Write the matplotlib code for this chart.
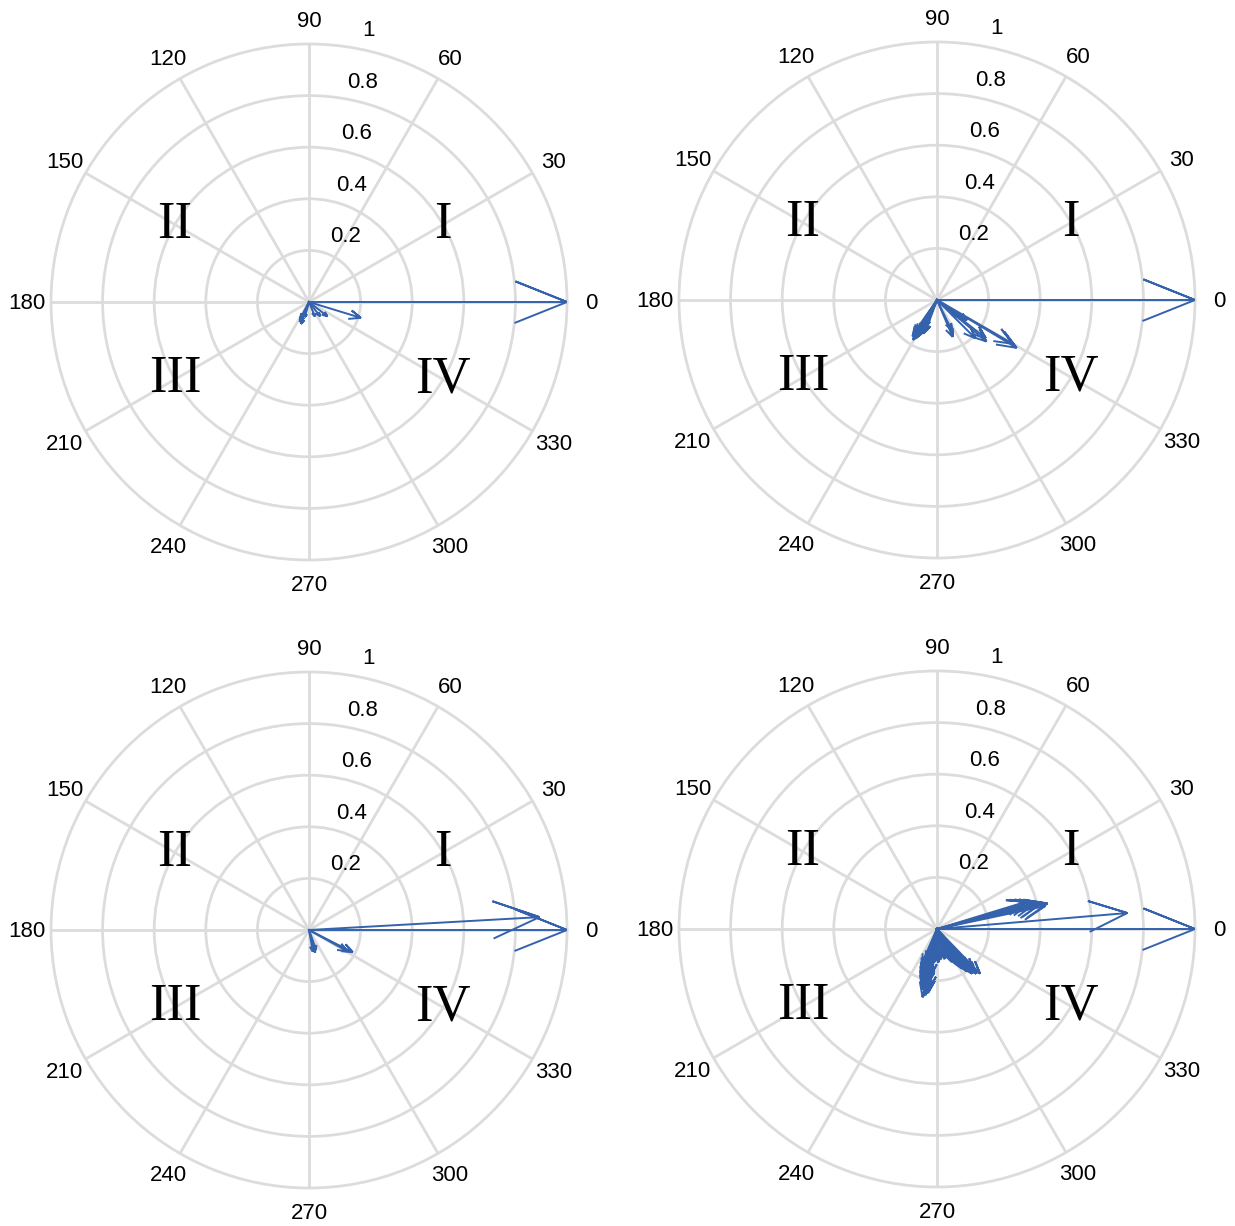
import numpy as np
import matplotlib
matplotlib.use("Agg")
from matplotlib import pyplot as plt

# compass data: magnitude and angle (deg) for each arrow, one pair of lists per panel
mag_a = [1.0, 0.21, 0.09, 0.07, 0.06, 0.09, 0.08, 0.07, 0.06, 0.085]
ang_a = [0, -17, -38, -52, -68, -110, -113, -118, -105, -115]

mag_b = [1.0, 0.18, 0.17, 0.16, 0.15, 0.14, 0.13, 0.12, 0.17, 0.11, 0.10, 0.15, 0.13,
         0.155, 0.13, 0.25, 0.24, 0.21, 0.36, 0.34, 0.14, 0.12, 0.10, 0.16, 0.14]
ang_b = [0, -121, -119, -122, -117, -120, -115, -118, -124, -113, -116, -123, -110,
         -67, -64, -40, -38, -45, -31, -30, -34, -36, -38, -125, -112]

mag_c = [1.0, 0.895, 0.19, 0.17, 0.09, 0.085, 0.08]
ang_c = [0, 3.2, -27, -29, -75, -80, -70]

mag_d = [1.0, 0.74, 0.44, 0.42, 0.40, 0.38, 0.36, 0.43, 0.41,
         0.27, 0.26, 0.25, 0.24, 0.23, 0.22, 0.21, 0.20, 0.19, 0.18, 0.17, 0.16, 0.15, 0.14, 0.13,
         0.25, 0.22, 0.20, 0.18, 0.16, 0.14, 0.12,
         0.24, 0.23, 0.22, 0.21, 0.20, 0.19, 0.18, 0.17, 0.16, 0.15, 0.14,
         0.12, 0.11, 0.12, 0.11, 0.12, 0.13, 0.12, 0.14]
ang_d = [0, 4.8, 13, 14, 15, 16, 17, 12, 13.5,
         -102, -100, -98, -104, -97, -106, -99, -108, -101, -110, -96, -112, -103, -114, -95,
         -101, -105, -99, -109, -103, -107, -111,
         -46, -49, -52, -48, -55, -51, -58, -53, -61, -56, -64,
         -69, -72, -76, -80, -84, -88, -92, -66]

theta_ticks = np.arange(0, 360, 30)
r_ticks = [0.2, 0.4, 0.6, 0.8, 1.0]
r_labels = ['0.2', '0.4', '0.6', '0.8', '1']
quadrants = ['I', 'II', 'III', 'IV']
quad_ang = [30, 150, 210, 330]

grid_col = '#dcdcdc'
arrow_col = '#3462ad'

panels = [(mag_a, ang_a, 309, 302), (mag_b, ang_b, 937, 300),
          (mag_c, ang_c, 309, 930), (mag_d, ang_d, 937, 929)]

W, H = 1235, 1226
R = 258
fig = plt.figure(figsize=(W / 100, H / 100), dpi=100)

for mags, angs, cx, cy in panels:
    rect = [(cx - R) / W, 1 - (cy + R) / H, 2 * R / W, 2 * R / H]
    axp = fig.add_axes(rect, projection='polar')
    axp.set_ylim(0, 1)
    axp.set_thetagrids(theta_ticks, [''] * len(theta_ticks))
    axp.set_rgrids(r_ticks[:-1], [''] * 4)
    axp.grid(color=grid_col, linewidth=2.0)
    axp.spines['polar'].set_color(grid_col)
    axp.spines['polar'].set_linewidth(2.0)
    axp.tick_params(length=0)

    ax = fig.add_axes(rect)
    ax.set_xlim(-1, 1)
    ax.set_ylim(-1, 1)
    ax.axis('off')
    ax.patch.set_alpha(0)

    for t in theta_ticks:
        a = np.deg2rad(t)
        ax.text(1.093 * np.cos(a), 1.093 * np.sin(a) - 0.006, str(t), ha='center', va='center',
                fontsize=16, family='Liberation Sans')
    for r, lab in zip(r_ticks, r_labels):
        ax.text(0.12 + 0.11 * r, r + 0.052, lab, ha='center', va='center',
                fontsize=16, family='Liberation Sans')
    for q, a in zip(quadrants, quad_ang):
        a = np.deg2rad(a)
        ax.text(0.6 * np.cos(a), 0.6 * np.sin(a), q, ha='center', va='center',
                fontsize=38, family='Liberation Serif')

    # compass arrows: shaft plus head (0.2 long, 0.08 half width, relative to length)
    for m, d in zip(mags, angs):
        z = m * np.exp(1j * np.deg2rad(d))
        pts = np.array([0, z, z * (0.8 + 0.08j), z, z * (0.8 - 0.08j)])
        ax.plot(pts.real, pts.imag, color=arrow_col, linewidth=1.4, solid_joinstyle='miter')

fig.savefig('out.png', dpi=100, facecolor='white')
